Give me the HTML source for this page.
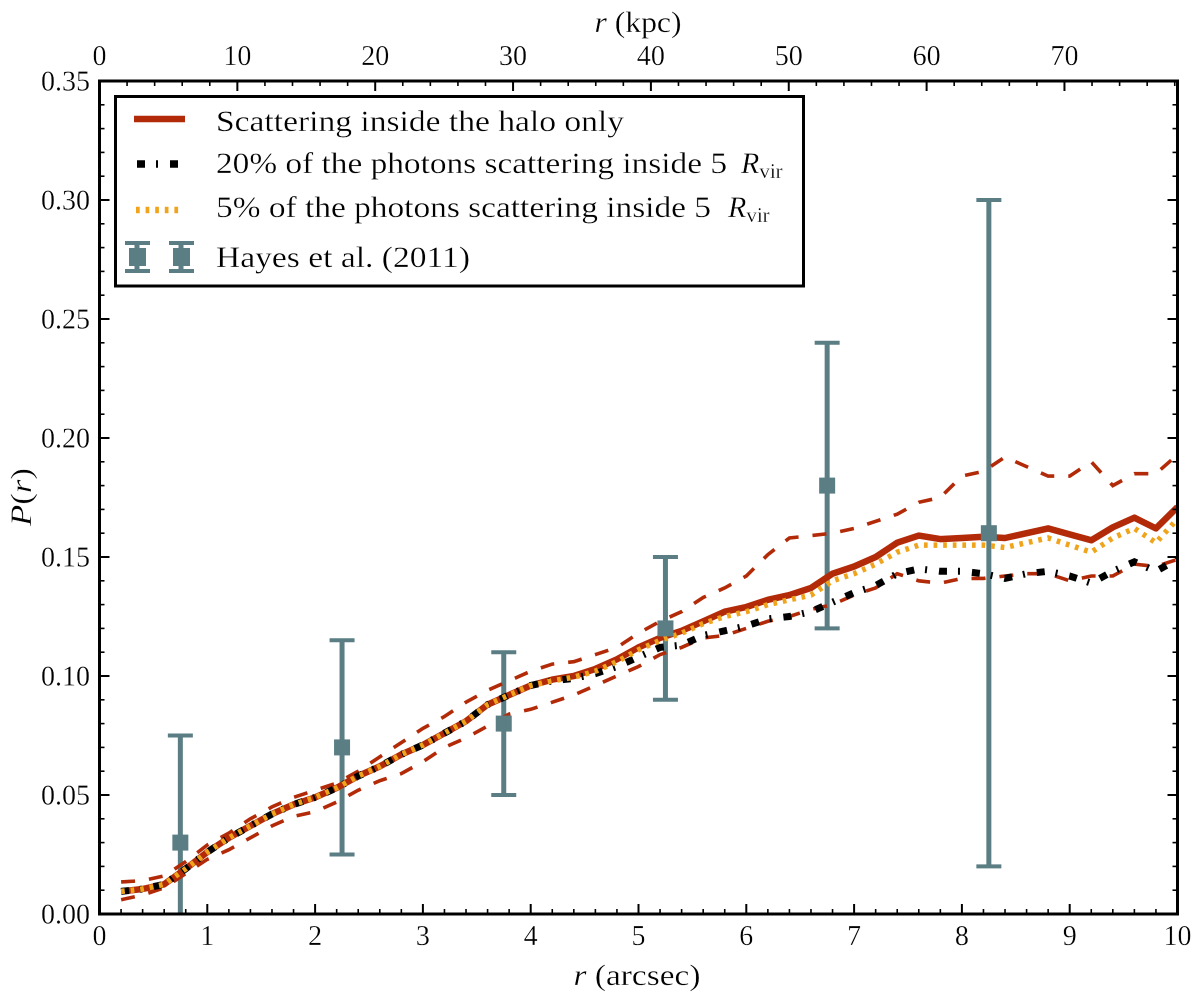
<!DOCTYPE html>
<html>
<head>
<meta charset="utf-8">
<title>P(r) profile</title>
<style>
html,body{margin:0;padding:0;background:#fff;width:1200px;height:1000px;overflow:hidden}
svg{display:block}
text{font-family:"Liberation Serif","DejaVu Serif",serif;fill:#000;stroke:#fff;stroke-width:.3px}
</style>
</head>
<body>
<svg id="chart" xmlns="http://www.w3.org/2000/svg" width="1200" height="1000" viewBox="0 0 1200 1000">
  <defs><clipPath id="plot-clip"><rect x="99.5" y="81" width="1078" height="833"/></clipPath></defs>
  <g id="series-layer" clip-path="url(#plot-clip)"></g>
  <g id="axis-layer"></g>

  <rect x="99.5" y="81" width="1078" height="833" fill="none" stroke="#000" stroke-width="3"/>

  <text x="637" y="985" font-size="30" text-anchor="middle" textLength="127" lengthAdjust="spacingAndGlyphs"><tspan font-style="italic">r</tspan> (arcsec)</text>
  <text x="638" y="32" font-size="30" text-anchor="middle" textLength="87" lengthAdjust="spacingAndGlyphs"><tspan font-style="italic">r</tspan> (kpc)</text>
  <text transform="translate(31,497) rotate(-90)" font-size="30" text-anchor="middle" textLength="58" lengthAdjust="spacingAndGlyphs"><tspan font-style="italic">P</tspan>(<tspan font-style="italic">r</tspan>)</text>

  <g>
    <rect x="115.5" y="96.5" width="688" height="189.5" fill="#fff" stroke="#000" stroke-width="3"/>
    <line x1="134" x2="185" y1="119" y2="119" stroke="#b22a08" stroke-width="6.5"/>
    <text x="216" y="131" font-size="30" textLength="408" lengthAdjust="spacingAndGlyphs">Scattering inside the halo only</text>
    <line x1="137" x2="178.5" y1="164" y2="164" stroke="#000" stroke-width="7.5" stroke-dasharray="8 11 2 12"/>
    <text x="216" y="173" font-size="30" textLength="511" lengthAdjust="spacingAndGlyphs">20% of the photons scattering inside 5</text>
    <text x="741" y="173" font-size="30" font-style="italic">R<tspan font-size="21" font-style="normal" dy="5">vir</tspan></text>
    <line x1="136" x2="180" y1="210" y2="210" stroke="#f0a41c" stroke-width="6.5" stroke-dasharray="3.7 5.9"/>
    <text x="216" y="217" font-size="30" textLength="495" lengthAdjust="spacingAndGlyphs">5% of the photons scattering inside 5</text>
    <text x="728" y="217" font-size="30" font-style="italic">R<tspan font-size="21" font-style="normal" dy="5">vir</tspan></text>
    <g stroke="#5a7e84" fill="#5a7e84">
      <line x1="137" x2="137" y1="243" y2="271" stroke-width="5"/>
      <line x1="125" x2="150" y1="243" y2="243" stroke-width="4"/>
      <line x1="125" x2="150" y1="271" y2="271" stroke-width="4"/>
      <rect x="129" y="248" width="17" height="18" stroke="none"/>
      <line x1="181" x2="181" y1="243" y2="271" stroke-width="5"/>
      <line x1="169" x2="194" y1="243" y2="243" stroke-width="4"/>
      <line x1="169" x2="194" y1="271" y2="271" stroke-width="4"/>
      <rect x="173" y="248" width="17" height="18" stroke="none"/>
    </g>
    <text x="216" y="267" font-size="30" textLength="254" lengthAdjust="spacingAndGlyphs">Hayes et al. (2011)</text>
  </g>
</svg>
<script>
const radii = [0.2,0.4,0.6,0.8,1.0,1.2,1.4,1.6,1.8,2.0,2.2,2.4,2.6,2.8,3.0,3.2,3.4,3.6,3.8,4.0,4.2,4.4,4.6,4.8,5.0,5.2,5.4,5.6,5.8,6.0,6.2,6.4,6.6,6.8,7.0,7.2,7.4,7.6,7.8,8.0,8.2,8.4,8.6,8.8,9.0,9.2,9.4,9.6,9.8,10.0];
const haloValues = [.0095,.0105,.0125,.019,.026,.032,.037,.042,.046,.049,.053,.058,.062,.067,.071,.076,.081,.088,.092,.096,.0985,.100,.103,.107,.112,.116,.119,.123,.127,.129,.132,.134,.137,.143,.146,.150,.156,.159,.1575,.158,.1585,.158,.160,.162,.1595,.157,.1625,.1665,.162,.171];
const haloUpper = [.0135,.014,.016,.022,.029,.034,.040,.045,.049,.052,.055,.060,.066,.072,.078,.083,.089,.094,.098,.102,.105,.106,.109,.112,.118,.123,.127,.133,.137,.142,.151,.158,.159,.160,.162,.165,.168,.173,.175,.184,.186,.192,.188,.184,.184,.190,.180,.185,.185,.193];
const haloLower = [.006,.008,.011,.017,.023,.027,.032,.037,.041,.043,.047,.052,.056,.059,.064,.070,.074,.079,.084,.086,.089,.092,.096,.100,.104,.109,.112,.116,.117,.120,.123,.125,.128,.130,.134,.137,.143,.140,.139,.141,.141,.142,.143,.143,.140,.142,.142,.147,.146,.149];
const scatter20Values = [.0095,.0105,.0125,.019,.026,.032,.037,.042,.046,.049,.053,.058,.062,.067,.071,.076,.081,.088,.092,.096,.098,.099,.101,.104,.108,.112,.113,.117,.119,.121,.124,.125,.127,.131,.135,.138,.143,.145,.144,.144,.143,.141,.143,.144,.142,.139,.144,.148,.144,.149];
const scatter5Values = [.0095,.0105,.0125,.019,.026,.032,.037,.042,.046,.049,.053,.058,.062,.067,.071,.076,.081,.088,.092,.096,.098,.0995,.102,.106,.111,.115,.118,.122,.125,.127,.130,.132,.134,.140,.143,.147,.152,.155,.155,.155,.155,.154,.156,.158,.155,.152,.158,.162,.156,.166];
const hayesX = [0.75,2.25,3.75,5.25,6.75,8.25];
const hayesY = [0.03,0.07,0.08,0.12,0.18,0.16];
const hayesLow = [-0.015,0.025,0.05,0.09,0.12,0.02];
const hayesHigh = [0.075,0.115,0.11,0.15,0.24,0.30];
const xTicks = [0,1,2,3,4,5,6,7,8,9,10];
const yTicks = [0,0.05,0.10,0.15,0.20,0.25,0.30,0.35];
const yTickLabels = ["0.00","0.05","0.10","0.15","0.20","0.25","0.30","0.35"];
const topTicks = [0,10,20,30,40,50,60,70];

const NS = "http://www.w3.org/2000/svg";
const X0 = 99.5, X1 = 1177.5, Y0 = 914, Y1 = 81;
const xScale = v => X0 + (v / 10) * (X1 - X0);
const yScale = v => Y0 - (v / 0.35) * (Y0 - Y1);
const topScale = v => X0 + (v / 78.2) * (X1 - X0);
const series = document.getElementById("series-layer");
const axes = document.getElementById("axis-layer");

function make(tag, attrs, parent) {
  const n = document.createElementNS(NS, tag);
  for (const k in attrs) n.setAttribute(k, attrs[k]);
  parent.appendChild(n);
  return n;
}
function pathFrom(ys) {
  return radii.map((r, i) => (i ? "L" : "M") + xScale(r).toFixed(1) + " " + yScale(ys[i]).toFixed(1)).join(" ");
}

function tickLine(x1, y1, x2, y2, major) {
  const el = make("line", {x1, y1, x2, y2, stroke: "#000", "stroke-width": major ? 2 : 1.6}, axes);
  
  
}
function tickLabel(x, y, str, anchor, name) {
  const el = make("text", {x, y, "font-size": 28, "text-anchor": anchor}, axes);
  el.textContent = str;
  
  
}

/* bottom axis */
for (let i = 0; i <= 50; i++) {
  const v = i / 5, major = i % 5 === 0, len = major ? 10 : 5;
  tickLine(xScale(v), Y0, xScale(v), Y0 - len, major);
}
xTicks.forEach(v => tickLabel(xScale(v), 945, String(v), "middle", "x-tick-label"));
/* top axis */
for (let v = 0; v <= 78; v += 2) {
  const major = v % 10 === 0, len = major ? 10 : 5;
  tickLine(topScale(v), Y1, topScale(v), Y1 + len, major);
}
topTicks.forEach(v => tickLabel(topScale(v), 65, String(v), "middle", "top-tick-label"));
/* y axes */
for (let i = 0; i <= 35; i++) {
  const v = i / 100, major = i % 5 === 0, len = major ? 10 : 5;
  tickLine(X0, yScale(v), X0 + len, yScale(v), major);
  tickLine(X1, yScale(v), X1 - len, yScale(v), major);
}
yTicks.forEach((v, i) => {
  tickLabel(90, yScale(v) + 9.5, yTickLabels[i], "end", "y-tick-label");
});

/* error bars */
const hayesColor = "#5a7e84";
hayesX.forEach((xv, i) => {
  const cx = xScale(xv);
  const bar = make("line", {x1: cx, x2: cx, y1: yScale(hayesLow[i]), y2: yScale(hayesHigh[i]), stroke: hayesColor, "stroke-width": 5}, series);
  
  
  [hayesLow[i], hayesHigh[i]].forEach(v => {
    const cap = make("line", {x1: cx - 12.5, x2: cx + 12.5, y1: yScale(v), y2: yScale(v), stroke: hayesColor, "stroke-width": 4}, series);
    
    
  });
});

/* envelopes */
const upper = make("path", {d: pathFrom(haloUpper), fill: "none", stroke: "#b22a08", "stroke-width": 3.6, "stroke-dasharray": "14 14"}, series);


const lower = make("path", {d: pathFrom(haloLower), fill: "none", stroke: "#b22a08", "stroke-width": 3.6, "stroke-dasharray": "14 14"}, series);



/* main lines */
const halo = make("path", {d: pathFrom(haloValues), fill: "none", stroke: "#b22a08", "stroke-width": 6.5, "stroke-linejoin": "round"}, series);


const s20 = make("path", {d: pathFrom(scatter20Values), fill: "none", stroke: "#000", "stroke-width": 7, "stroke-dasharray": "8 11 2 12"}, series);


const s5 = make("path", {d: pathFrom(scatter5Values), fill: "none", stroke: "#f0a41c", "stroke-width": 5.5, "stroke-dasharray": "3.7 5.9"}, series);



/* markers above lines */
hayesX.forEach((xv, i) => {
  const m = make("rect", {x: xScale(xv) - 8, y: yScale(hayesY[i]) - 8, width: 16, height: 16, fill: hayesColor}, series);
  
  
});
</script>
</body>
</html>
